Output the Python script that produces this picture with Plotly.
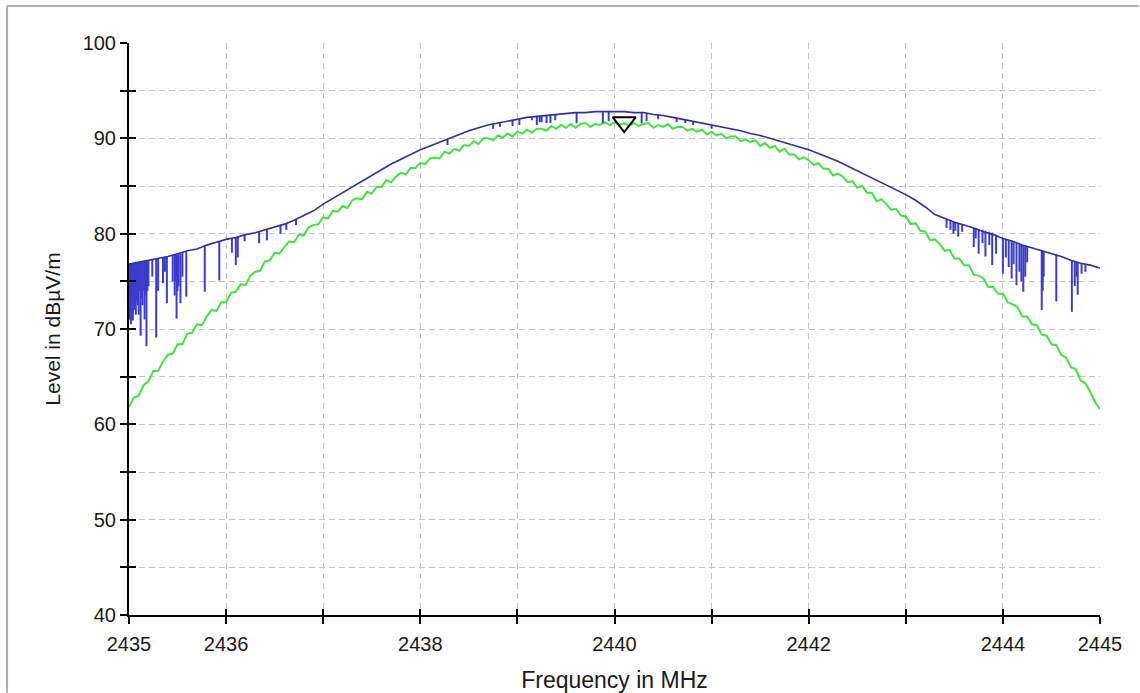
import plotly.graph_objects as go

# ---------------- data ----------------
# blue trace (peak detector) upper envelope, sampled every 0.1 MHz
blue_freq = [2435.0, 2435.1, 2435.2, 2435.3, 2435.4, 2435.5, 2435.6, 2435.7, 2435.8, 2435.9,
             2436.0, 2436.1, 2436.2, 2436.3, 2436.4, 2436.5, 2436.6, 2436.7, 2436.8, 2436.9,
             2437.0, 2437.1, 2437.2, 2437.3, 2437.4, 2437.5, 2437.6, 2437.7, 2437.8, 2437.9,
             2438.0, 2438.1, 2438.2, 2438.3, 2438.4, 2438.5, 2438.6, 2438.7, 2438.8, 2438.9,
             2439.0, 2439.1, 2439.2, 2439.3, 2439.4, 2439.5, 2439.6, 2439.7, 2439.8, 2439.9,
             2440.0, 2440.1, 2440.2, 2440.3, 2440.4, 2440.5, 2440.6, 2440.7, 2440.8, 2440.9,
             2441.0, 2441.1, 2441.2, 2441.3, 2441.4, 2441.5, 2441.6, 2441.7, 2441.8, 2441.9,
             2442.0, 2442.1, 2442.2, 2442.3, 2442.4, 2442.5, 2442.6, 2442.7, 2442.8, 2442.9,
             2443.0, 2443.1, 2443.2, 2443.3, 2443.4, 2443.5, 2443.6, 2443.7, 2443.8, 2443.9,
             2444.0, 2444.1, 2444.2, 2444.3, 2444.4, 2444.5, 2444.6, 2444.7, 2444.8, 2444.9,
             2445.0]
blue_level = [76.8, 77.0, 77.2, 77.4, 77.6, 77.9, 78.2, 78.4, 78.8, 79.1,
              79.4, 79.6, 79.9, 80.1, 80.4, 80.7, 81.0, 81.4, 81.9, 82.4,
              83.1, 83.7, 84.3, 84.9, 85.5, 86.1, 86.7, 87.3, 87.8, 88.3,
              88.8, 89.2, 89.6, 90.0, 90.4, 90.8, 91.1, 91.4, 91.6, 91.8,
              92.0, 92.2, 92.3, 92.4, 92.5, 92.6, 92.7, 92.7, 92.8, 92.8,
              92.8, 92.8, 92.7, 92.7, 92.5, 92.4, 92.2, 92.0, 91.8, 91.6,
              91.4, 91.2, 91.0, 90.8, 90.5, 90.3, 90.0, 89.7, 89.4, 89.1,
              88.8, 88.4, 88.0, 87.6, 87.1, 86.6, 86.1, 85.6, 85.1, 84.6,
              84.1, 83.5, 82.8, 82.0, 81.6, 81.2, 80.9, 80.6, 80.2, 79.9,
              79.5, 79.2, 78.8, 78.5, 78.2, 77.9, 77.6, 77.2, 76.9, 76.7,
              76.4]

# green trace (average detector), sampled every 0.05 MHz
green_freq = [2435.00, 2435.05, 2435.10, 2435.15, 2435.20, 2435.25, 2435.30, 2435.35, 2435.40, 2435.45,
              2435.50, 2435.55, 2435.60, 2435.65, 2435.70, 2435.75, 2435.80, 2435.85, 2435.90, 2435.95,
              2436.00, 2436.05, 2436.10, 2436.15, 2436.20, 2436.25, 2436.30, 2436.35, 2436.40, 2436.45,
              2436.50, 2436.55, 2436.60, 2436.65, 2436.70, 2436.75, 2436.80, 2436.85, 2436.90, 2436.95,
              2437.00, 2437.05, 2437.10, 2437.15, 2437.20, 2437.25, 2437.30, 2437.35, 2437.40, 2437.45,
              2437.50, 2437.55, 2437.60, 2437.65, 2437.70, 2437.75, 2437.80, 2437.85, 2437.90, 2437.95,
              2438.00, 2438.05, 2438.10, 2438.15, 2438.20, 2438.25, 2438.30, 2438.35, 2438.40, 2438.45,
              2438.50, 2438.55, 2438.60, 2438.65, 2438.70, 2438.75, 2438.80, 2438.85, 2438.90, 2438.95,
              2439.00, 2439.05, 2439.10, 2439.15, 2439.20, 2439.25, 2439.30, 2439.35, 2439.40, 2439.45,
              2439.50, 2439.55, 2439.60, 2439.65, 2439.70, 2439.75, 2439.80, 2439.85, 2439.90, 2439.95,
              2440.00, 2440.05, 2440.10, 2440.15, 2440.20, 2440.25, 2440.30, 2440.35, 2440.40, 2440.45,
              2440.50, 2440.55, 2440.60, 2440.65, 2440.70, 2440.75, 2440.80, 2440.85, 2440.90, 2440.95,
              2441.00, 2441.05, 2441.10, 2441.15, 2441.20, 2441.25, 2441.30, 2441.35, 2441.40, 2441.45,
              2441.50, 2441.55, 2441.60, 2441.65, 2441.70, 2441.75, 2441.80, 2441.85, 2441.90, 2441.95,
              2442.00, 2442.05, 2442.10, 2442.15, 2442.20, 2442.25, 2442.30, 2442.35, 2442.40, 2442.45,
              2442.50, 2442.55, 2442.60, 2442.65, 2442.70, 2442.75, 2442.80, 2442.85, 2442.90, 2442.95,
              2443.00, 2443.05, 2443.10, 2443.15, 2443.20, 2443.25, 2443.30, 2443.35, 2443.40, 2443.45,
              2443.50, 2443.55, 2443.60, 2443.65, 2443.70, 2443.75, 2443.80, 2443.85, 2443.90, 2443.95,
              2444.00, 2444.05, 2444.10, 2444.15, 2444.20, 2444.25, 2444.30, 2444.35, 2444.40, 2444.45,
              2444.50, 2444.55, 2444.60, 2444.65, 2444.70, 2444.75, 2444.80, 2444.85, 2444.90, 2444.95,
              2445.00]
green_level = [61.8, 62.8, 63.0, 64.1, 64.5, 65.6, 65.6, 66.6, 67.3, 67.4,
               68.4, 68.4, 69.5, 69.6, 70.5, 70.4, 71.3, 72.0, 71.9, 72.8,
               72.8, 73.8, 73.9, 74.7, 74.6, 75.6, 76.0, 76.1, 77.1, 77.2,
               78.0, 77.9, 78.6, 79.2, 79.1, 79.9, 79.8, 80.7, 80.9, 81.0,
               81.7, 81.6, 82.4, 82.3, 82.9, 82.7, 83.5, 83.7, 83.6, 84.4,
               84.2, 84.9, 84.9, 85.6, 85.4, 86.0, 86.4, 86.2, 86.9, 86.9,
               87.4, 87.3, 87.9, 88.0, 87.9, 88.6, 88.4, 88.9, 88.7, 89.3,
               89.2, 89.7, 89.4, 90.0, 90.0, 89.8, 90.3, 90.1, 90.5, 90.2,
               90.7, 90.5, 90.9, 90.6, 91.0, 91.0, 90.8, 91.3, 91.0, 91.4,
               91.1, 91.5, 91.1, 91.5, 91.6, 91.2, 91.5, 91.4, 91.7, 91.4,
               91.7, 91.4, 91.6, 91.3, 91.6, 91.3, 91.5, 91.6, 91.1, 91.4,
               91.2, 91.5, 91.0, 91.2, 91.2, 90.8, 91.0, 90.7, 90.9, 90.4,
               90.7, 90.3, 90.5, 90.0, 90.2, 90.2, 89.7, 89.9, 89.6, 89.8,
               89.2, 89.5, 89.0, 89.2, 88.6, 88.9, 88.3, 88.3, 87.8, 88.0,
               87.7, 87.2, 87.4, 86.8, 86.8, 86.1, 86.3, 86.0, 85.4, 85.5,
               84.8, 85.0, 84.3, 84.3, 83.4, 83.6, 83.1, 82.5, 82.6, 81.9,
               81.8, 81.0, 81.1, 80.3, 80.2, 79.3, 79.4, 78.9, 78.2, 78.3,
               77.4, 77.4, 76.7, 76.7, 75.7, 75.6, 75.3, 74.4, 74.4, 73.7,
               73.7, 72.8, 72.6, 72.3, 71.3, 71.3, 70.5, 70.4, 69.4, 69.3,
               68.4, 68.3, 67.3, 67.0, 66.0, 65.8, 64.6, 64.3, 63.4, 62.3,
               61.6]

# downward spikes of the blue trace: frequency, top level, bottom level
dip_freq = [2435.003, 2435.01, 2435.015, 2435.02, 2435.025, 2435.03, 2435.035, 2435.04, 2435.045, 2435.05,
            2435.055, 2435.06, 2435.065, 2435.07, 2435.08, 2435.09, 2435.10, 2435.11, 2435.12, 2435.13,
            2435.14, 2435.15, 2435.16, 2435.17, 2435.18, 2435.19, 2435.20, 2435.24, 2435.28, 2435.30,
            2435.35, 2435.37, 2435.39, 2435.45, 2435.47, 2435.48, 2435.49, 2435.50, 2435.51, 2435.53,
            2435.55, 2435.59, 2435.78, 2435.93, 2436.06, 2436.10, 2436.12, 2436.19, 2436.34, 2436.42,
            2436.56, 2436.62, 2436.72,
            2438.28, 2438.75, 2438.82, 2438.95, 2439.02, 2439.15, 2439.20, 2439.23, 2439.25, 2439.30,
            2439.34, 2439.39, 2439.61, 2439.88, 2439.94, 2440.28, 2440.33, 2440.45, 2440.64, 2440.73,
            2440.81, 2441.00,
            2443.42, 2443.46, 2443.49, 2443.51, 2443.54, 2443.58, 2443.70, 2443.72, 2443.75, 2443.79,
            2443.82, 2443.86, 2443.89, 2443.93, 2444.00, 2444.03, 2444.06, 2444.09, 2444.11, 2444.14,
            2444.17, 2444.19, 2444.21, 2444.23, 2444.25, 2444.40, 2444.41, 2444.42, 2444.55, 2444.71,
            2444.74, 2444.76, 2444.77, 2444.81, 2444.85]
dip_top = [76.8, 76.8, 76.8, 76.8, 76.8, 76.8, 76.8, 76.8, 76.9, 76.9,
           76.9, 76.9, 76.9, 76.9, 76.9, 77.0, 77.0, 77.0, 77.0, 77.0,
           77.0, 77.1, 77.1, 77.1, 77.1, 77.2, 77.2, 77.3, 77.4, 77.4,
           77.5, 77.5, 77.6, 77.7, 77.8, 77.8, 77.8, 77.9, 77.9, 77.9,
           78.0, 78.1, 78.7, 79.2, 79.5, 79.6, 79.7, 79.9, 80.2, 80.4,
           80.9, 81.1, 81.5,
           89.9, 91.5, 91.6, 91.9, 92.0, 92.2, 92.3, 92.3, 92.3, 92.4,
           92.4, 92.5, 92.7, 92.8, 92.8, 92.7, 92.6, 92.5, 92.1, 92.0,
           91.8, 91.4,
           81.5, 81.4, 81.3, 81.2, 81.1, 81.0, 80.6, 80.6, 80.5, 80.4,
           80.3, 80.2, 80.1, 79.9, 79.5, 79.4, 79.3, 79.2, 79.1, 79.0,
           78.9, 78.8, 78.8, 78.7, 78.7, 78.2, 78.2, 78.1, 77.8, 77.2,
           77.1, 77.0, 77.0, 76.9, 76.8]
dip_bottom = [71.0, 72.0, 73.5, 70.5, 72.8, 74.0, 71.8, 70.9, 73.0, 73.5,
              72.0, 72.2, 74.2, 71.5, 73.0, 72.5, 71.5, 74.0, 69.3, 73.2,
              72.5, 74.0, 71.0, 73.5, 68.2, 74.0, 74.5, 75.5, 69.1, 74.0,
              74.8, 76.0, 72.7, 75.0, 73.5, 75.0, 71.1, 74.0, 74.5, 72.7,
              75.5, 73.4, 73.9, 75.1, 78.0, 76.7, 77.5, 79.2, 79.0, 79.3,
              80.0, 80.4, 80.9,
              89.3, 91.0, 91.2, 91.3, 91.4, 91.9, 91.4, 91.7, 91.7, 91.6,
              91.6, 91.9, 91.6, 91.6, 91.8, 91.6, 91.8, 92.0, 91.7, 91.6,
              91.4, 91.0,
              80.6, 80.4, 80.0, 80.3, 79.7, 80.2, 78.6, 79.5, 77.9, 79.0,
              77.6, 78.8, 76.7, 77.9, 75.8, 77.5, 76.5, 75.3, 76.8, 74.6,
              76.0, 75.0, 73.9, 75.5, 77.0, 72.0, 74.0, 75.5, 72.9, 71.8,
              74.5, 75.5, 73.6, 75.8, 76.0]

marker_freq = [2440.1]
marker_level = [91.7]

x_tickvals = [2435, 2436, 2437, 2438, 2439, 2440, 2441, 2442, 2443, 2444, 2445]
x_ticktext = ["2435", "2436", "", "2438", "", "2440", "", "2442", "", "2444", "2445"]
y_tickvals = [40, 45, 50, 55, 60, 65, 70, 75, 80, 85, 90, 95, 100]
y_ticktext = ["40", "", "50", "", "60", "", "70", "", "80", "", "90", "", "100"]

# ---------------- figure ----------------
FONT = "Liberation Sans, Arial, sans-serif"
fig = go.Figure()

fig.add_trace(go.Scatter(x=green_freq, y=green_level, mode="lines",
                         line=dict(color="#46e046", width=2), showlegend=False))

dx, dy = [], []
for f, t, b in zip(dip_freq, dip_top, dip_bottom):
    dx += [f, f, None]
    dy += [t, b, None]
fig.add_trace(go.Scatter(x=dx, y=dy, mode="lines",
                         line=dict(color="#3d3dcc", width=2), showlegend=False))

fig.add_trace(go.Scatter(x=blue_freq, y=blue_level, mode="lines",
                         line=dict(color="#30309a", width=1.6), showlegend=False))

fig.add_trace(go.Scatter(x=marker_freq, y=marker_level, mode="markers",
                         xaxis="x2", yaxis="y2",
                         marker=dict(symbol="triangle-down-open", size=20,
                                     color="black", line=dict(color="black", width=2)),
                         showlegend=False))

common_axis = dict(showline=True, linecolor="black", linewidth=2,
                   ticks="outside", ticklen=7, tickwidth=2, tickcolor="black",
                   showgrid=True, gridcolor="#c4c4c4", gridwidth=1, griddash="6px,4px",
                   zeroline=False, mirror=False,
                   tickfont=dict(family=FONT, size=20, color="#1a1a1a"))

fig.update_layout(
    width=1140, height=693,
    margin=dict(l=129, r=40, t=43, b=78, autoexpand=False),
    paper_bgcolor="white", plot_bgcolor="white",
    xaxis=dict(range=[2435, 2445], tickmode="array", tickvals=x_tickvals, ticktext=x_ticktext,
               ticklabelstandoff=3,
               title=dict(text="Frequency in MHz", standoff=18,
                          font=dict(family=FONT, size=23, color="#1a1a1a")),
               **common_axis),
    yaxis=dict(range=[40, 100], tickmode="array", tickvals=y_tickvals, ticktext=y_ticktext,
               title=dict(text="Level in dBµV/m", standoff=16,
                          font=dict(family=FONT, size=21, color="#1a1a1a")),
               **common_axis),
    xaxis2=dict(range=[2435, 2445], overlaying="x", anchor="y2", side="bottom",
                tickmode="array", tickvals=x_tickvals, ticks="inside", ticklen=6,
                tickwidth=2, tickcolor="black", showticklabels=False, showgrid=False,
                showline=False, zeroline=False),
    yaxis2=dict(range=[40, 100], overlaying="y", anchor="x2", side="left",
                tickmode="array", tickvals=y_tickvals, ticks="inside", ticklen=7,
                tickwidth=2, tickcolor="black", showticklabels=False, showgrid=False,
                showline=False, zeroline=False),
    shapes=[
        dict(type="line", xref="paper", yref="paper", x0=-0.1256, x1=1.04, y0=1.0647, y1=1.0647,
             line=dict(color="#b0b0b0", width=2)),
        dict(type="line", xref="paper", yref="paper", x0=-0.1256, x1=-0.1256, y0=1.0647, y1=-0.136,
             line=dict(color="#b0b0b0", width=2)),
    ],
)

# remove the default page margin so the figure fills the window exactly
fig.write_html("out.html",
               config={"displayModeBar": False},
               post_script="document.body.style.margin='0';document.body.style.overflow='hidden';")
